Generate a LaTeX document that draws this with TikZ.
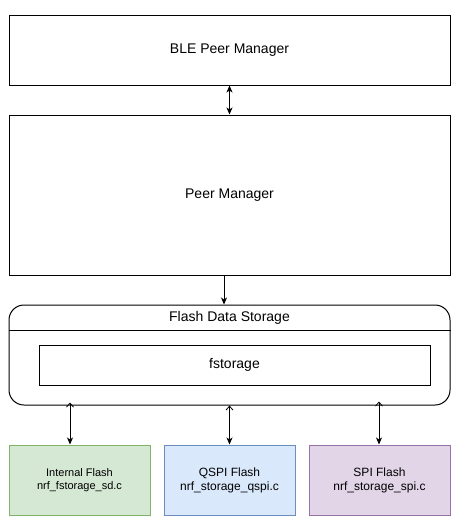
\documentclass[tikz,border=0pt]{standalone}
\usepackage{fontspec}
\setmainfont{Liberation Sans}
\usetikzlibrary{arrows.meta}

\definecolor{intfill}{HTML}{D5E8D4}
\definecolor{intdraw}{HTML}{82B366}
\definecolor{qspifill}{HTML}{DAE8FC}
\definecolor{qspidraw}{HTML}{6C8EBF}
\definecolor{spifill}{HTML}{E1D5E7}
\definecolor{spidraw}{HTML}{9673A6}

\begin{document}
\begin{tikzpicture}[x=1pt, y=-1pt, line width=1pt,
    layer/.style={draw, minimum width=441pt, font=\fontsize{14}{16}\selectfont},
    flashbox/.style={draw, minimum height=70pt, align=center, font=\fontsize{12}{14}\selectfont},
    tip/.style={-{Stealth[length=7pt, width=6pt, inset=2pt]}},
    duplex/.style={{Stealth[length=7pt, width=6pt, inset=2pt]}-{Stealth[length=7pt, width=6pt, inset=2pt]}},
    updown/.style={{Straight Barb[length=4pt, width=7pt, line width=0.8pt]}-{Stealth[length=7pt, width=6pt, inset=2pt]}}]
    \useasboundingbox (0,0) rectangle (460,525);
    \node[layer, minimum height=70pt] (ble) at (229.5,50) {BLE Peer Manager};
    \node[layer, minimum height=160pt] (pm) at (229.5,195) {Peer Manager};
    \draw[duplex] (ble) -- (pm);
    \node[layer, minimum height=100pt, rounded corners=15pt] (fds) at (229.5,355) {};
    \node[minimum width=441pt, minimum height=25pt, font=\fontsize{14}{16}\selectfont] (fdstitle) at (229.5,317.5) {Flash Data Storage};
    \draw (fdstitle.south west) -- (fdstitle.south east);
    \node[draw, minimum width=391pt, minimum height=40pt, font=\fontsize{14}{16}\selectfont] (fst) at (234.5,365) {fstorage};
    \draw[tip] ([xshift=-5.5pt]pm.south) -- ([xshift=-5.5pt]pm.south |- fds.north);
    \node[flashbox, fill=intfill, draw=intdraw, minimum width=141pt, font=\fontsize{11}{13}\selectfont] (intflash) at (79.5,480) {Internal Flash\\nrf\_fstorage\_sd.c};
    \node[flashbox, fill=qspifill, draw=qspidraw, minimum width=131pt] (qspi) at (229.5,480) {QSPI Flash\\nrf\_storage\_qspi.c};
    \node[flashbox, fill=spifill, draw=spidraw, minimum width=141pt] (spi) at (379.5,480) {SPI Flash\\nrf\_storage\_spi.c};
    \draw[updown] ([xshift=-9.5pt,yshift=3pt]intflash.north |- fds.south) -- ([xshift=-9.5pt]intflash.north);
    \draw[updown] (qspi.north |- fds.south) -- (qspi.north);
    \draw[updown] ([xshift=-0.5pt,yshift=4pt]spi.north |- fds.south) -- ([xshift=-0.5pt]spi.north);
\end{tikzpicture}
\end{document}
